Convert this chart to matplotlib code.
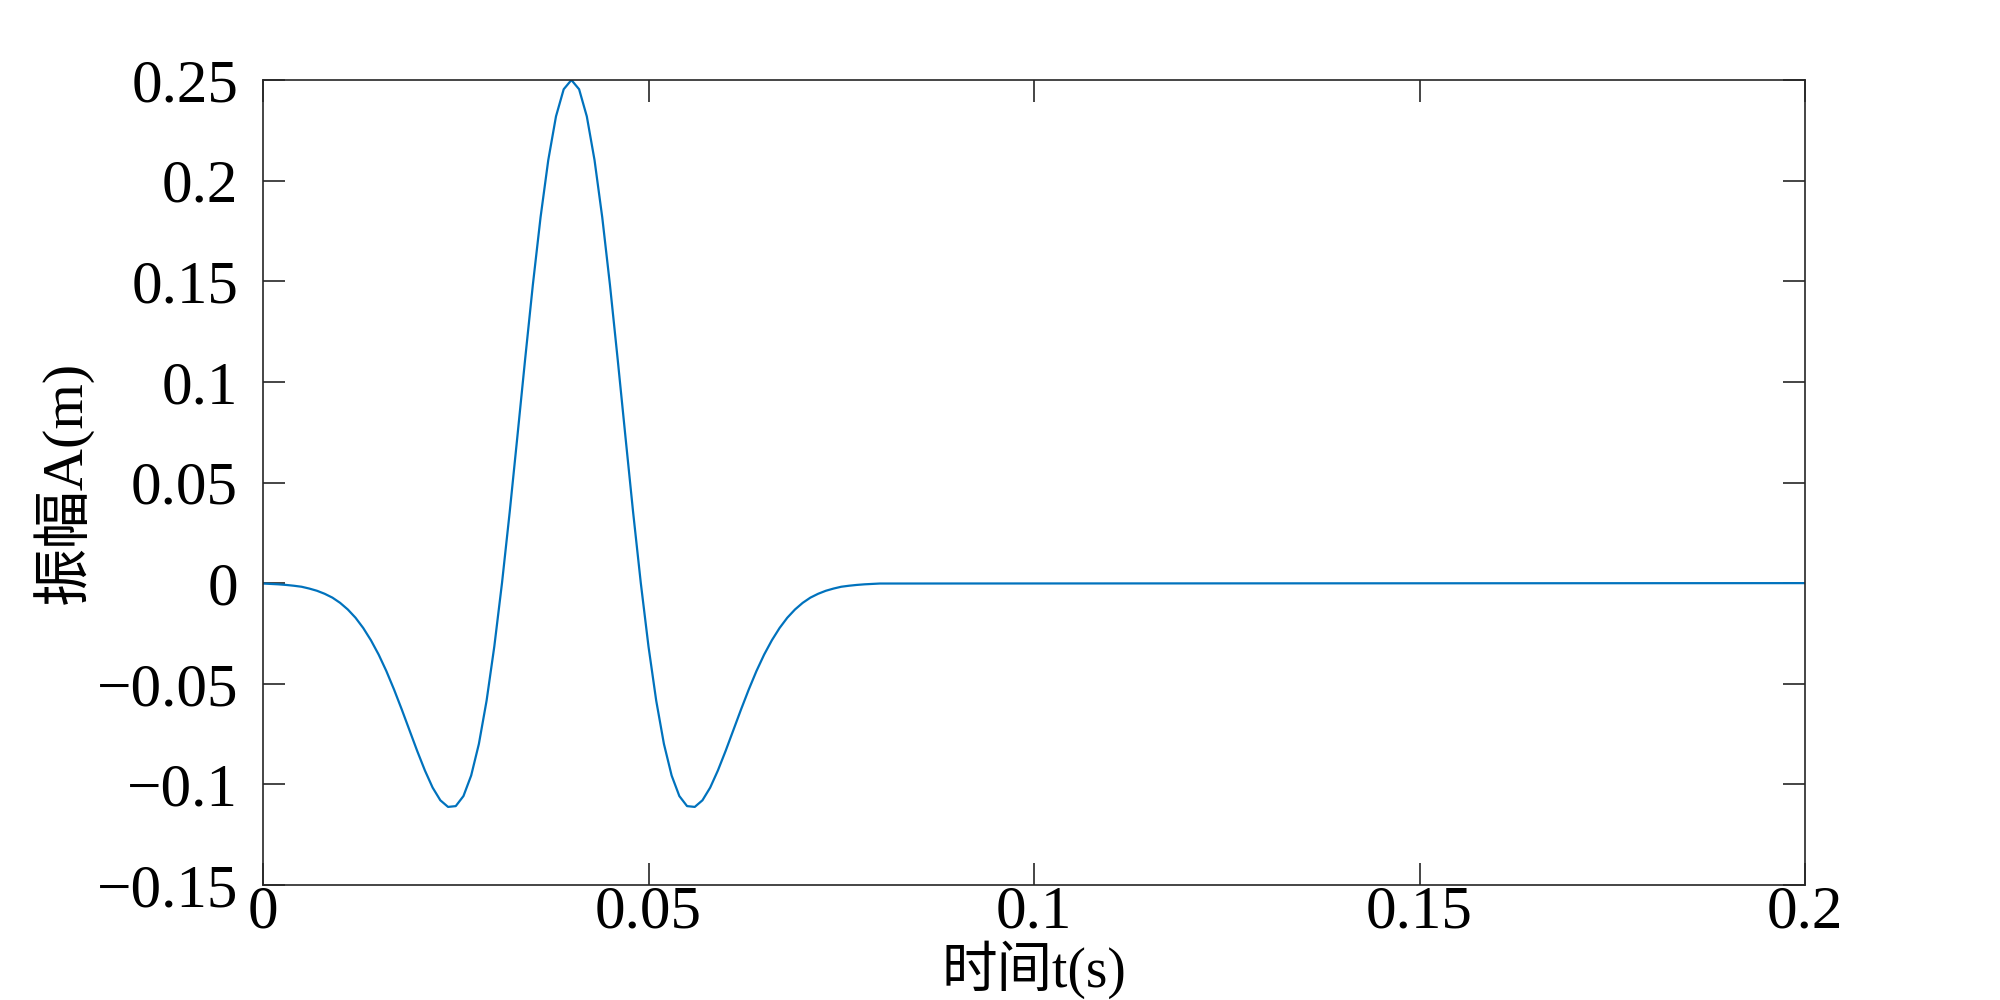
import matplotlib
matplotlib.use("Agg")
import matplotlib.pyplot as plt

plt.rcParams["font.family"] = ["Liberation Serif", "Noto Sans CJK SC"]
plt.rcParams["axes.unicode_minus"] = True

t = [0.000, 0.001, 0.002, 0.003, 0.004, 0.005, 0.006, 0.007, 0.008, 0.009,
     0.010, 0.011, 0.012, 0.013, 0.014, 0.015, 0.016, 0.017, 0.018, 0.019,
     0.020, 0.021, 0.022, 0.023, 0.024, 0.025, 0.026, 0.027, 0.028, 0.029,
     0.030, 0.031, 0.032, 0.033, 0.034, 0.035, 0.036, 0.037, 0.038, 0.039,
     0.040, 0.041, 0.042, 0.043, 0.044, 0.045, 0.046, 0.047, 0.048, 0.049,
     0.050, 0.051, 0.052, 0.053, 0.054, 0.055, 0.056, 0.057, 0.058, 0.059,
     0.060, 0.061, 0.062, 0.063, 0.064, 0.065, 0.066, 0.067, 0.068, 0.069,
     0.070, 0.071, 0.072, 0.073, 0.074, 0.075, 0.076, 0.077, 0.078, 0.079,
     0.080, 0.200]
amp = [-0.0002, -0.0004, -0.0006, -0.0009, -0.0013, -0.0018, -0.0027, -0.0038, -0.0053, -0.0072,
       -0.0098, -0.0131, -0.0172, -0.0223, -0.0284, -0.0355, -0.0437, -0.0529, -0.0628, -0.0731,
       -0.0834, -0.0931, -0.1016, -0.1079, -0.1112, -0.1108, -0.1058, -0.0956, -0.0799, -0.0584,
       -0.0315, 0.0001, 0.0354, 0.0731, 0.1113, 0.1482, 0.1818, 0.2102, 0.2319, 0.2454,
       0.2500, 0.2454, 0.2319, 0.2102, 0.1818, 0.1482, 0.1113, 0.0731, 0.0354, 0.0001,
       -0.0315, -0.0584, -0.0799, -0.0956, -0.1058, -0.1108, -0.1112, -0.1079, -0.1016, -0.0931,
       -0.0834, -0.0731, -0.0628, -0.0529, -0.0437, -0.0355, -0.0284, -0.0223, -0.0172, -0.0131,
       -0.0098, -0.0072, -0.0053, -0.0038, -0.0027, -0.0018, -0.0013, -0.0009, -0.0006, -0.0004,
       -0.0002, 0.0]

xticks = [0, 0.05, 0.1, 0.15, 0.2]
xticklabels = ["0", "0.05", "0.1", "0.15", "0.2"]
yticks = [-0.15, -0.1, -0.05, 0, 0.05, 0.1, 0.15, 0.2, 0.25]
yticklabels = ["\u22120.15", "\u22120.1", "\u22120.05", "0", "0.05", "0.1", "0.15", "0.2", "0.25"]

fig = plt.figure(figsize=(20, 10), dpi=100)
ax = fig.add_axes([0.1315, 0.115, 0.771, 0.805])

ax.plot(t, amp, color="#0072BD", lw=1.6)

ax.set_xlim(0, 0.2)
ax.set_ylim(-0.15, 0.25)
ax.set_xticks(xticks)
ax.set_xticklabels(xticklabels)
ax.set_yticks(yticks)
ax.set_yticklabels(yticklabels)
ax.tick_params(direction="in", length=16, width=1.2, colors="#262626",
               labelcolor="black", labelsize=44, top=True, right=True)
ax.tick_params(axis="y", pad=18)
ax.tick_params(axis="x", pad=0)
for s in ax.spines.values():
    s.set_color("#262626")
    s.set_linewidth(1.2)

ax.set_xlabel("时间t(s)", fontsize=40, labelpad=0)
ax.set_ylabel("振幅A(m)", fontsize=42, labelpad=2)

fig.savefig("out.png", dpi=100)
